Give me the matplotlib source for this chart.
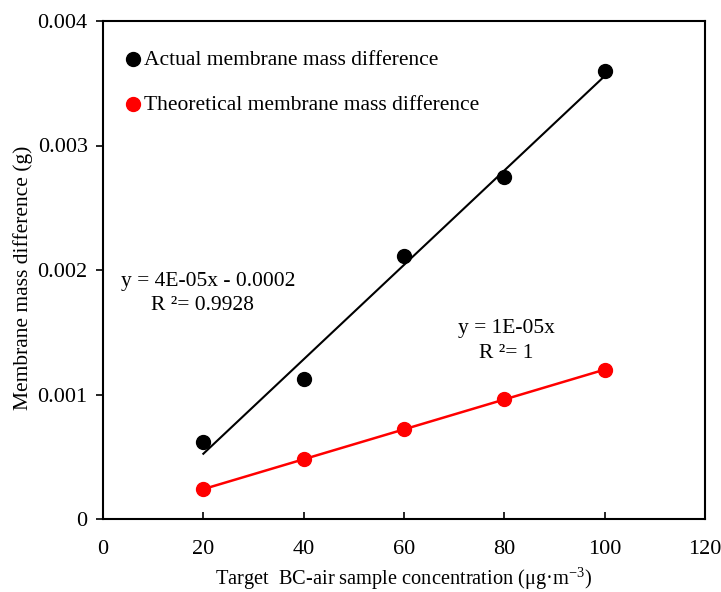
import matplotlib
matplotlib.use("Agg")
import matplotlib.pyplot as plt
import numpy as np

plt.rcParams['font.family'] = ['Liberation Serif', 'DejaVu Serif']
plt.rcParams['mathtext.fontset'] = 'stix'

x_conc = [20, 40, 60, 80, 100]
actual_diff = [0.00062, 0.001125, 0.00211, 0.00275, 0.0036]
theoretical_diff = [0.00024, 0.00048, 0.00072, 0.00096, 0.0012]
x_ticks = [0, 20, 40, 60, 80, 100, 120]
y_ticks = [0, 0.001, 0.002, 0.003, 0.004]
y_ticklabels = ['0', '0.001', '0.002', '0.003', '0.004']
label_actual = 'Actual membrane mass difference'
label_theory = 'Theoretical membrane mass difference'
eq_actual = ['y = 4E-05x - 0.0002', 'R ²= 0.9928']
eq_theory = ['y = 1E-05x', 'R ²= 1']

fig = plt.figure(figsize=(7.21, 5.92), dpi=100)
ax = fig.add_axes([103/721, 1-519/592, (705-103)/721, (519-21)/592])

xa = np.array(x_conc, dtype=float)
coef_a = np.polyfit(xa, actual_diff, 1)
ax.plot(xa, np.polyval(coef_a, xa), color='black', lw=1.5, zorder=2)
ax.scatter(x_conc, actual_diff, s=100, color='black', zorder=3, label=label_actual)

ax.plot(x_conc, theoretical_diff, color='red', lw=1.8, zorder=2)
ax.scatter(x_conc, theoretical_diff, s=100, color='red', zorder=3, label=label_theory)

ax.set_xlim(0, 120)
ax.set_ylim(0, 0.004)
ax.set_xticks(x_ticks)
ax.set_xticklabels([str(v) for v in x_ticks])
ax.set_yticks(y_ticks)
ax.set_yticklabels(y_ticklabels)
ax.tick_params(axis='x', direction='in', length=5, width=1.2, labelsize=16, pad=15)
ax.tick_params(axis='y', direction='out', length=5, width=1.2, labelsize=16, pad=6)
for s in ax.spines.values():
    s.set_linewidth(1.5)

ax.set_xlabel('Target  BC-air sample concentration (μg·m$^{\\mathregular{-3}}$)', fontsize=14.7, labelpad=5)
ax.set_ylabel('Membrane mass difference (g)', fontsize=15.5)
ax.yaxis.set_label_coords(-0.117, 0.485)

leg = ax.legend(loc='upper left', bbox_to_anchor=(0.0, 0.985), frameon=False, fontsize=15.5,
                handletextpad=0.11, handlelength=0.8, labelspacing=1.15, borderaxespad=0.6,
                borderpad=0.4, scatterpoints=1)

ax.text(0.174, 0.476, eq_actual[0], transform=ax.transAxes, fontsize=15.5, ha='center', va='center')
ax.text(0.166, 0.428, eq_actual[1], transform=ax.transAxes, fontsize=15.5, ha='center', va='center')
ax.text(0.670, 0.3835, eq_theory[0], transform=ax.transAxes, fontsize=15.5, ha='center', va='center')
ax.text(0.670, 0.333, eq_theory[1], transform=ax.transAxes, fontsize=15.5, ha='center', va='center')

fig.savefig('out.png', dpi=100)
